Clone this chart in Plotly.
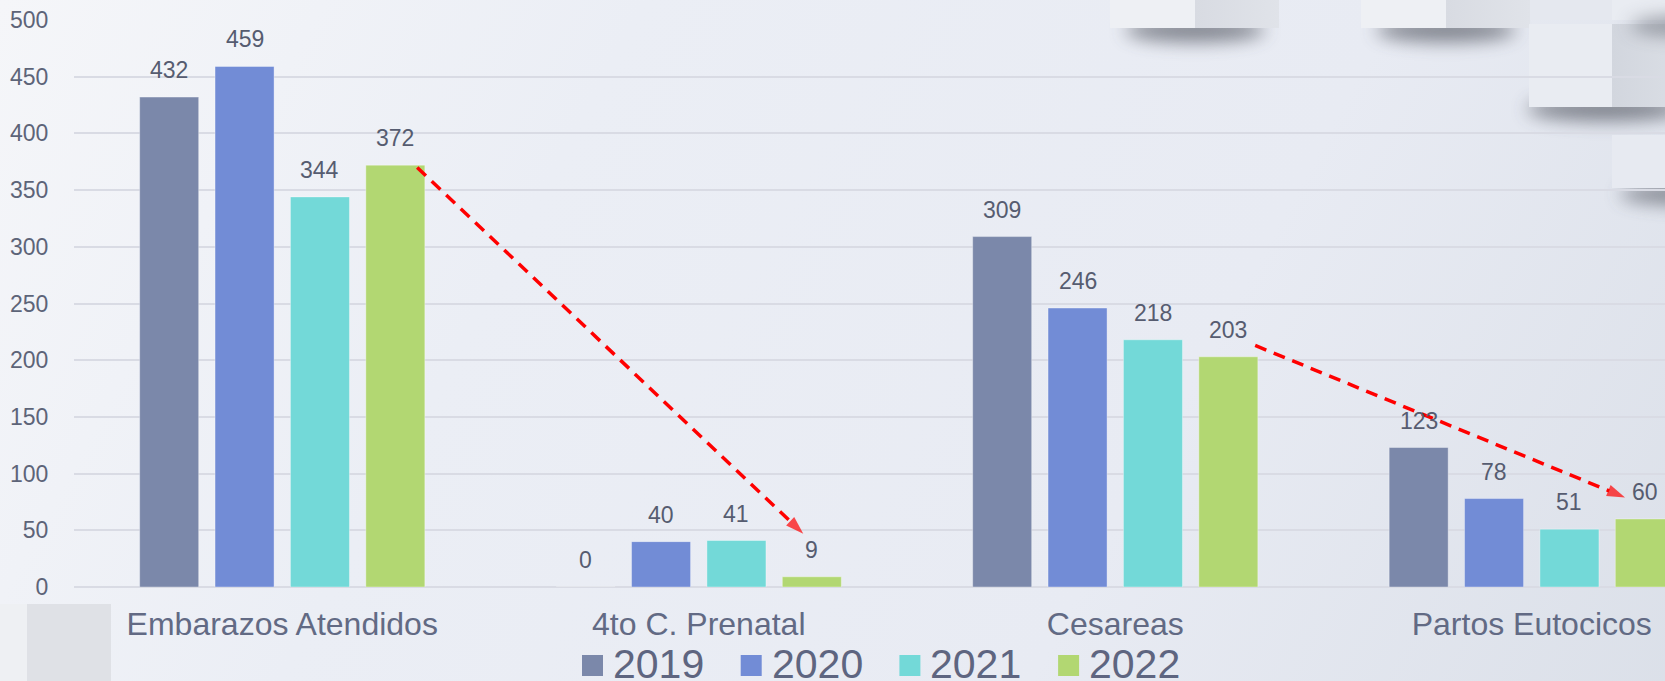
import base64
import plotly.graph_objects as go

# ---------------- data ----------------
categories = ["Embarazos Atendidos", "4to C. Prenatal", "Cesareas", "Partos Eutocicos"]
years = ["2019", "2020", "2021", "2022"]
v2019 = [432, 0, 309, 123]
v2020 = [459, 40, 246, 78]
v2021 = [344, 41, 218, 51]
v2022 = [372, 9, 203, 60]
colors = ["#7b88aa", "#728cd6", "#73d9d8", "#b2d772"]
y_ticks = [0, 50, 100, 150, 200, 250, 300, 350, 400, 450, 500]
# trend arrows: (start category idx + offset, start value) -> (end idx + offset, end value)
arrow_x0 = [0.324, 2.336]
arrow_y0 = [370, 213]
arrow_x1 = [1.251, 3.224]
arrow_y1 = [47, 79]

series = [v2019, v2020, v2021, v2022]

# ---------------- geometry ----------------
W_FIG, H_FIG = 1665, 681
L, T = 74, 20
PW, PH = W_FIG - L, 567
BARGAP = 0.276
BARGROUPGAP = 0.217
slot = (1 - BARGAP) / len(series)
xs = list(range(len(categories)))


def px_x(px):
    return (px - L) / PW


def px_y(py):
    return (T + PH - py) / PH


# ---------------- background (gradient + decorative cubes) ----------------
svg = f'''<svg xmlns="http://www.w3.org/2000/svg" width="{W_FIG}" height="{H_FIG}" viewBox="0 0 {W_FIG} {H_FIG}">
<defs>
<linearGradient id="g" x1="0" y1="0" x2="1665" y2="900" gradientUnits="userSpaceOnUse">
<stop offset="0" stop-color="#f5f6f9"/>
<stop offset="0.3" stop-color="#ebeef5"/>
<stop offset="0.65" stop-color="#e8ebf3"/>
<stop offset="1" stop-color="#d9dee7"/>
</linearGradient>
<linearGradient id="dk" x1="0" y1="0" x2="1" y2="0">
<stop offset="0" stop-color="#d8dbe2"/>
<stop offset="1" stop-color="#e0e3e9"/>
</linearGradient>
<linearGradient id="dk2" x1="0" y1="0" x2="1" y2="0">
<stop offset="0" stop-color="#d2d6de"/>
<stop offset="1" stop-color="#d9dde4"/>
</linearGradient>
<filter id="b" x="-60%" y="-200%" width="220%" height="500%"><feGaussianBlur stdDeviation="9"/></filter>
</defs>
<rect width="{W_FIG}" height="{H_FIG}" fill="url(#g)"/>
<ellipse cx="1195" cy="30" rx="70" ry="12" fill="#4a4e58" opacity="0.65" filter="url(#b)"/>
<rect x="1110" y="-10" width="85" height="38" fill="#eef0f4"/>
<rect x="1195" y="-10" width="84" height="38" fill="url(#dk)"/>
<ellipse cx="1446" cy="30" rx="70" ry="12" fill="#4a4e58" opacity="0.65" filter="url(#b)"/>
<rect x="1361" y="-10" width="85" height="38" fill="#eef0f4"/>
<rect x="1446" y="-10" width="84" height="38" fill="url(#dk)"/>
<rect x="1530" y="-10" width="82" height="30" fill="#e5e8ef"/>
<rect x="1612" y="-10" width="60" height="30" fill="#e9ecf2"/>
<ellipse cx="1605" cy="109" rx="78" ry="12" fill="#4a4e58" opacity="0.65" filter="url(#b)"/>
<rect x="1529" y="24" width="83" height="83" fill="#e9ecf2"/>
<rect x="1612" y="24" width="60" height="83" fill="url(#dk2)"/>
<ellipse cx="1690" cy="26" rx="60" ry="10" fill="#4a4e58" opacity="0.5" filter="url(#b)"/>
<ellipse cx="1690" cy="194" rx="70" ry="11" fill="#4a4e58" opacity="0.6" filter="url(#b)"/>
<rect x="1612" y="135" width="60" height="53" fill="#e7eaf1"/>
<rect x="0" y="604" width="27" height="77" fill="#eef0f3"/>
<rect x="27" y="604" width="84" height="77" fill="#dfe1e6"/>
</svg>'''
svg_uri = "data:image/svg+xml;base64," + base64.b64encode(svg.encode()).decode()

fig = go.Figure()

for name, vals, col in zip(years, series, colors):
    fig.add_trace(go.Bar(
        x=xs, y=vals, name=name,
        marker=dict(color=col, line=dict(color="rgba(255,255,255,0.35)", width=1)),
        hoverinfo="skip", showlegend=False,
    ))

# trend arrows
for x0, y0, x1, y1 in zip(arrow_x0, arrow_y0, arrow_x1, arrow_y1):
    fig.add_trace(go.Scatter(
        x=[x0, x1], y=[y0, y1], mode="lines+markers",
        line=dict(color="#ff0000", width=3.5, dash="12px,8px"),
        marker=dict(symbol=["circle", "arrow"], size=[0, 19], angleref="previous",
                    color="#ff0000", line=dict(width=0)),
        hoverinfo="skip", showlegend=False, cliponaxis=False,
    ))

annotations = []
# data labels
for j, vals in enumerate(series):
    for i, v in enumerate(vals):
        annotations.append(dict(
            x=i + (j - (len(series) - 1) / 2) * slot, y=v, xref="x", yref="y",
            text=str(v), showarrow=False, yshift=27, yanchor="middle",
            font=dict(family="Liberation Sans, Arial, sans-serif", size=23, color="#565c70"),
        ))

# manual legend
shapes = []
LEG_X0, LEG_STEP = 582, 158.7
for k, (name, col) in enumerate(zip(years, colors)):
    sx = LEG_X0 + k * LEG_STEP
    shapes.append(dict(type="rect", xref="paper", yref="paper",
                       x0=px_x(sx), x1=px_x(sx + 21), y0=px_y(676), y1=px_y(655),
                       fillcolor=col, line=dict(width=0), layer="above"))
    annotations.append(dict(
        x=px_x(sx + 29), y=px_y(664), xref="paper", yref="paper", text=name,
        showarrow=False, xanchor="left", yanchor="middle",
        font=dict(family="Liberation Sans, Arial, sans-serif", size=41, color="#5e6580"),
    ))

fig.update_layout(
    width=W_FIG, height=H_FIG,
    margin=dict(l=L, r=0, t=T, b=H_FIG - T - PH, pad=0),
    paper_bgcolor="#e9ecf3", plot_bgcolor="rgba(0,0,0,0)",
    barmode="group", bargap=BARGAP, bargroupgap=BARGROUPGAP,
    showlegend=False,
    annotations=annotations, shapes=shapes,
    images=[dict(source=svg_uri, xref="paper", yref="paper",
                 x=-L / PW, y=1 + T / PH, sizex=W_FIG / PW, sizey=H_FIG / PH,
                 xanchor="left", yanchor="top", sizing="stretch", layer="below")],
    font=dict(family="Liberation Sans, Arial, sans-serif"),
)
fig.update_xaxes(
    range=[-0.5, -0.5 + PW / 416.5], tickvals=xs, ticktext=categories,
    showgrid=False, zeroline=False, showline=False,
    ticks="outside", ticklen=9, tickcolor="rgba(0,0,0,0)",
    tickfont=dict(size=32, color="#626a84"),
)
fig.update_yaxes(
    range=[0, 500], tickvals=y_ticks, showgrid=True, gridcolor="#d9dbe4", gridwidth=2,
    zeroline=True, zerolinecolor="#d9dbe4", zerolinewidth=2, showline=False,
    ticks="outside", ticklen=20, tickcolor="rgba(0,0,0,0)",
    tickfont=dict(size=23, color="#5d6478"),
)

fig.write_html(
    "out.html",
    config={"displayModeBar": False},
    post_script="document.body.style.margin='0';document.body.style.overflow='hidden';",
)
